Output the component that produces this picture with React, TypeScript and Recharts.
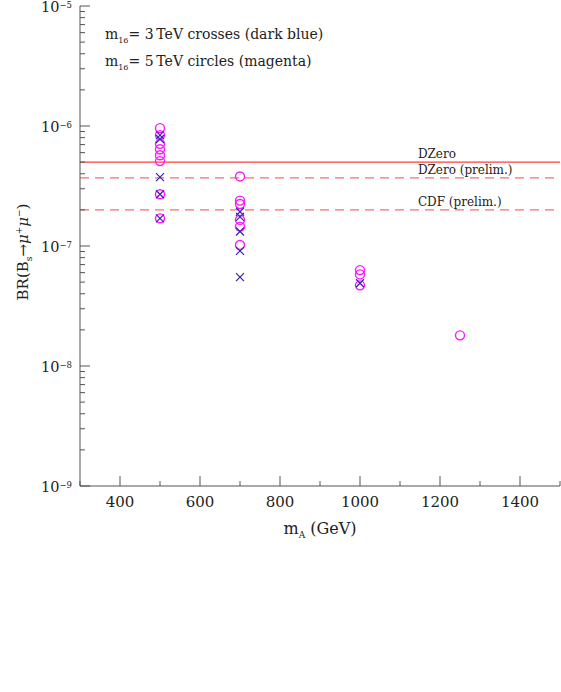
import { ScatterChart, Scatter, XAxis, YAxis, ReferenceLine, Label } from "recharts"

// m_A (GeV) and BR values
const crossMass = [500, 500, 500, 500, 500, 700, 700, 700, 700, 700, 1000]
const crossBR = [8.4e-7, 7.8e-7, 3.75e-7, 2.7e-7, 1.7e-7, 1.93e-7, 1.75e-7, 1.32e-7, 9.1e-8, 5.5e-8, 4.9e-8]

const circleMass = [500, 500, 500, 500, 500, 500, 500, 500, 700, 700, 700, 700, 700, 700, 1000, 1000, 1000, 1250]
const circleBR = [
  9.6e-7, 8.4e-7, 7.1e-7, 6.4e-7, 5.7e-7, 5.1e-7, 2.7e-7, 1.7e-7,
  3.8e-7, 2.39e-7, 2.24e-7, 1.65e-7, 1.45e-7, 1.02e-7,
  6.3e-8, 5.8e-8, 4.7e-8, 1.8e-8,
]

const limitNames = ["DZero", "DZero (prelim.)", "CDF (prelim.)"]
const limitValues = [5e-7, 3.7e-7, 2e-7]
const limitDashed = [false, true, true]

const xMajor = [400, 600, 800, 1000, 1200, 1400]
const xMinor = [300, 500, 700, 900, 1100, 1300, 1500]
const yDecades = [-9, -8, -7, -6, -5]

const crossData = crossMass.map((m, i) => ({ x: m, y: crossBR[i] }))
const circleData = circleMass.map((m, i) => ({ x: m, y: circleBR[i] }))

const yTicks: number[] = []
yDecades.forEach((d) => {
  yTicks.push(Math.pow(10, d))
  if (d < -5) for (let k = 2; k <= 9; k++) yTicks.push(k * Math.pow(10, d))
})
const xTicks = [...xMajor, ...xMinor].sort((a, b) => a - b)

const FONT = "'DejaVu Serif', serif"
const AXIS = "#555"
const BLUE = "#3a28b4"
const MAGENTA = "#ff14ff"

const isDecade = (v: number) => Math.abs(Math.log10(v) - Math.round(Math.log10(v))) < 1e-6

function YTickLeft(p: any) {
  const v = p.payload.value
  const major = isDecade(v)
  return (
    <g>
      <line x1={p.x} x2={p.x + (major ? 10 : 5)} y1={p.y} y2={p.y} stroke={AXIS} />
      {major && (
        <text x={p.x - 8} y={p.y + 6} textAnchor="end" fontFamily={FONT} fontSize={14.5} fill="#222">
          10<tspan dy={-4} fontSize={8.5}>{"\u2212" + Math.abs(Math.round(Math.log10(v)))}</tspan>
        </text>
      )}
    </g>
  )
}

function YTickRight(p: any) {
  const major = isDecade(p.payload.value)
  return <line x1={p.x} x2={p.x - (major ? 10 : 5)} y1={p.y} y2={p.y} stroke={AXIS} />
}

function XTickBottom(p: any) {
  const v = p.payload.value
  const major = xMajor.includes(v)
  return (
    <g>
      <line x1={p.x} x2={p.x} y1={p.y} y2={p.y - (major ? 10 : 5)} stroke={AXIS} />
      {major && (
        <text x={p.x} y={p.y + 21} textAnchor="middle" fontFamily={FONT} fontSize={15} fill="#222">
          {v}
        </text>
      )}
    </g>
  )
}

function XTickTop(p: any) {
  const major = xMajor.includes(p.payload.value)
  return <line x1={p.x} x2={p.x} y1={p.y} y2={p.y + (major ? 10 : 5)} stroke={AXIS} />
}

const Cross = (p: any) => (
  <path
    d={`M${p.cx - 4},${p.cy - 4}L${p.cx + 4},${p.cy + 4}M${p.cx - 4},${p.cy + 4}L${p.cx + 4},${p.cy - 4}`}
    stroke={BLUE}
    strokeWidth={1.3}
    fill="none"
  />
)

const Ring = (p: any) => <circle cx={p.cx} cy={p.cy} r={4.5} fill="none" stroke={MAGENTA} strokeWidth={1.4} />

const xTitle = (p: any) => {
  const vb = p.viewBox
  return (
    <text x={vb.x + vb.width / 2} y={vb.y + 48} textAnchor="middle" fontFamily={FONT} fontSize={16} fill="#222">
      m<tspan dy={4} fontSize={9}>A</tspan>
      <tspan dy={-4}> (GeV)</tspan>
    </text>
  )
}

const yTitle = (p: any) => {
  const vb = p.viewBox
  const cx = vb.x + 28
  const cy = vb.y + vb.height / 2 + 6
  return (
    <text
      x={cx}
      y={cy}
      transform={`rotate(-90 ${cx} ${cy})`}
      textAnchor="middle"
      fontFamily={FONT}
      fontSize={15}
      fill="#222"
    >
      BR(B<tspan dy={4} fontSize={9}>s</tspan>
      <tspan dy={-4}>{"\u2192"}</tspan>
      <tspan fontStyle="italic">{"\u03bc"}</tspan>
      <tspan dy={-6} fontSize={9}>+</tspan>
      <tspan dy={6} fontStyle="italic">{"\u03bc"}</tspan>
      <tspan dy={-6} fontSize={9}>{"\u2212"}</tspan>
      <tspan dy={6}>)</tspan>
    </text>
  )
}

const limitLabel = (name: string) => (p: any) => {
  const vb = p.viewBox
  return (
    <text x={vb.x + vb.width * 0.704} y={vb.y - 4} fontFamily={FONT} fontSize={12} fill="#222">
      {name}
    </text>
  )
}

export default function App() {
  return (
    <div style={{ position: "absolute", left: 0, top: 0, width: 561, height: 692, background: "#fff" }}>
      <ScatterChart width={561} height={692} margin={{ top: 6, right: 1, bottom: 176, left: 0 }}>
        <XAxis
          xAxisId="b"
          dataKey="x"
          type="number"
          domain={[300, 1500]}
          ticks={xTicks}
          interval={0}
          tickSize={0}
          tickMargin={0}
          height={30}
          axisLine={{ stroke: AXIS }}
          tick={XTickBottom}
        >
          <Label content={xTitle} />
        </XAxis>
        <XAxis
          xAxisId="t"
          orientation="top"
          type="number"
          domain={[300, 1500]}
          ticks={xTicks}
          interval={0}
          tickSize={0}
          tickMargin={0}
          height={0}
          axisLine={{ stroke: AXIS }}
          tick={XTickTop}
        />
        <YAxis
          yAxisId="l"
          dataKey="y"
          type="number"
          scale="log"
          domain={[1e-9, 1e-5]}
          allowDataOverflow
          ticks={yTicks}
          interval={0}
          tickSize={0}
          tickMargin={0}
          width={80}
          axisLine={{ stroke: AXIS }}
          tick={YTickLeft}
        >
          <Label content={yTitle} />
        </YAxis>
        <YAxis
          yAxisId="r"
          orientation="right"
          type="number"
          scale="log"
          domain={[1e-9, 1e-5]}
          allowDataOverflow
          ticks={yTicks}
          interval={0}
          tickSize={0}
          tickMargin={0}
          width={0}
          axisLine={{ stroke: AXIS }}
          tick={YTickRight}
        />
        {limitValues.map((v, i) => (
          <ReferenceLine
            key={limitNames[i]}
            xAxisId="b"
            yAxisId="l"
            y={v}
            stroke={limitDashed[i] ? "#ff6a6a" : "#ff3c3c"}
            strokeWidth={1.3}
            strokeDasharray={limitDashed[i] ? "9 6" : undefined}
            label={{ content: limitLabel(limitNames[i]) }}
          />
        ))}
        <Scatter xAxisId="b" yAxisId="l" data={circleData} shape={Ring} isAnimationActive={false} />
        <Scatter xAxisId="b" yAxisId="l" data={crossData} shape={Cross} isAnimationActive={false} />
      </ScatterChart>
      <div
        style={{
          position: "absolute",
          left: 105,
          top: 24,
          fontFamily: FONT,
          fontSize: 14,
          lineHeight: "20px",
          color: "#222",
          whiteSpace: "nowrap",
        }}
      >
        <div>
          m<sub style={{ fontSize: 8 }}>16</sub>= 3&thinsp;TeV crosses (dark blue)
        </div>
        <div>
          m<sub style={{ fontSize: 8 }}>16</sub>= 5&thinsp;TeV circles (magenta)
        </div>
      </div>
    </div>
  )
}
